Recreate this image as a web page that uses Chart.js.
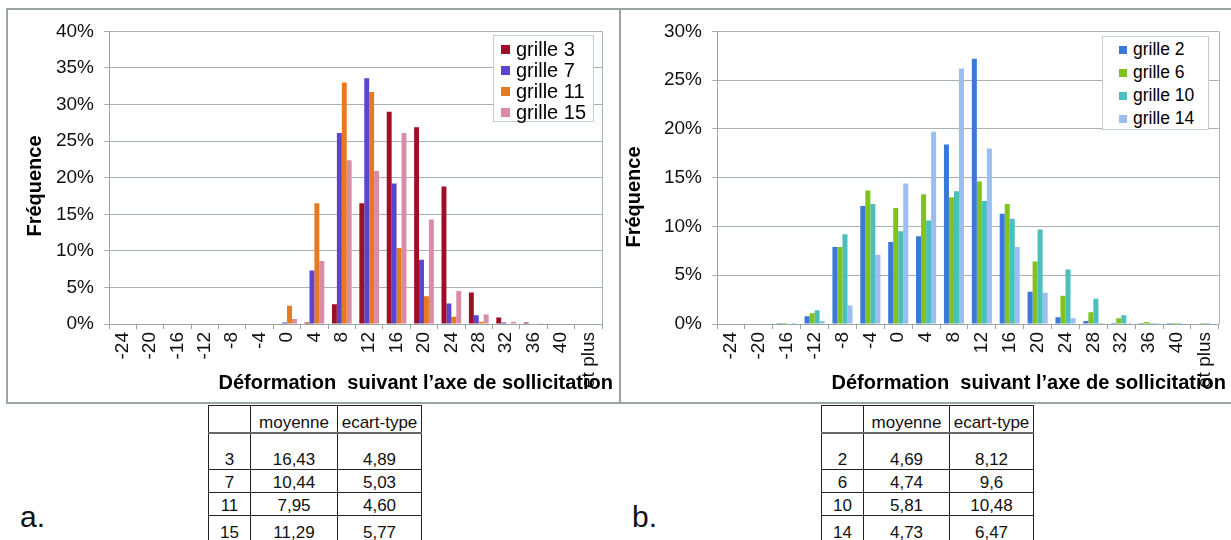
<!DOCTYPE html>
<html>
<head>
<meta charset="utf-8">
<script src="https://cdn.jsdelivr.net/npm/chart.js@4"></script>
<style>
    html, body { margin: 0; padding: 0; background: #fff; overflow: hidden; }
    body { width: 1231px; height: 540px; position: relative; font-family: "Liberation Sans", Arial, sans-serif; }
    .frame { position: absolute; border: 2px solid #9ba5a5; box-sizing: border-box; }
    canvas { position: absolute; }
    .legend { position: absolute; background: #fff; border: 1px solid #c5cccc; box-sizing: border-box; color: #000; }
    .legend div { display: flex; align-items: center; white-space: nowrap; }
    .legend span.box { display: inline-block; }
    table.stats { position: absolute; border-collapse: collapse; table-layout: fixed; font-size: 17px; color: #111; }
    table.stats td { border: 1px solid #222; text-align: center; vertical-align: bottom; padding: 0; line-height: 19px; }
    table.stats tr.head td { border-bottom: 2px solid #666; }
    .tag { position: absolute; font-size: 30px; line-height: 30px; color: #111; }
</style>
</head>
<body>
<div class="frame" style="left:6px;top:8px;width:615px;height:396px"></div>
<div class="frame" style="left:619px;top:8px;width:640px;height:396px"></div>

<canvas id="chartA" width="612" height="392" style="left:8px;top:10px"></canvas>
<canvas id="chartB" width="610" height="392" style="left:621px;top:10px"></canvas>

<div id="legendA" class="legend" style="left:493px;top:35px;width:101px;height:87px;font-size:20px;padding:3px 0 0 7px"></div>
<div id="legendB" class="legend" style="left:1102px;top:36px;width:107px;height:94px;font-size:17.5px;padding:1px 0 0 16px"></div>

<table id="tableA" class="stats" style="left:208px;top:405px;width:212px"></table>
<table id="tableB" class="stats" style="left:821px;top:405px;width:211px"></table>

<div class="tag" style="left:20px;top:502px">a.</div>
<div class="tag" style="left:632px;top:502px">b.</div>

<script>
// classes de deformation (axe x)
const categories = ['-24', '-20', '-16', '-12', '-8', '-4', '0', '4', '8', '12', '16', '20', '24', '28', '32', '36', '40', 'et plus'];

// a. frequences en %
const grille3 = [0, 0, 0, 0, 0, 0, 0, 0.2, 2.7, 16.5, 29.0, 26.9, 18.8, 4.3, 0.9, 0.2, 0, 0];
const grille7 = [0, 0, 0, 0, 0, 0, 0.2, 7.3, 26.1, 33.6, 19.2, 8.8, 2.8, 1.2, 0.2, 0, 0, 0];
const grille11 = [0, 0, 0, 0, 0, 0, 2.5, 16.5, 33.0, 31.7, 10.4, 3.8, 1.0, 0.3, 0, 0, 0, 0];
const grille15 = [0, 0, 0, 0, 0, 0, 0.7, 8.6, 22.4, 20.9, 26.1, 14.3, 4.5, 1.3, 0.3, 0.1, 0, 0];

// b. frequences en %
const grille2 = [0, 0, 0.1, 0.8, 7.9, 12.1, 8.4, 9.0, 18.4, 27.2, 11.3, 3.3, 0.7, 0.3, 0.1, 0.1, 0.1, 0];
const grille6 = [0, 0, 0.1, 1.1, 7.9, 13.7, 11.9, 13.3, 13.0, 14.6, 12.3, 6.4, 2.9, 1.2, 0.6, 0.2, 0.1, 0.1];
const grille10 = [0, 0, 0, 1.4, 9.2, 12.3, 9.5, 10.6, 13.6, 12.6, 10.8, 9.7, 5.6, 2.6, 0.9, 0.1, 0.1, 0.1];
const grille14 = [0, 0, 0.1, 0.3, 1.9, 7.1, 14.4, 19.7, 26.2, 18.0, 7.9, 3.2, 0.6, 0.1, 0.1, 0.1, 0, 0];

// tableaux moyenne / ecart-type
const statsHeader = ['', 'moyenne', 'ecart-type'];
const statsA = [['3', '16,43', '4,89'], ['7', '10,44', '5,03'], ['11', '7,95', '4,60'], ['15', '11,29', '5,77']];
const statsB = [['2', '4,69', '8,12'], ['6', '4,74', '9,6'], ['10', '5,81', '10,48'], ['14', '4,73', '6,47']];

const FONT = '"Liberation Sans", Arial, sans-serif';
const axisColor = '#9aa6a6';
const gridColor = '#a9b1b1';

// titres d'axes + bord droit de la zone de trace
const framePlugin = {
    id: 'frameTitles',
    afterDraw(chart, args, opts) {
        const ctx = chart.ctx;
        const area = chart.chartArea;
        ctx.save();
        ctx.strokeStyle = gridColor;
        ctx.lineWidth = 1;
        ctx.beginPath();
        ctx.moveTo(Math.round(area.right) + 0.5, area.top);
        ctx.lineTo(Math.round(area.right) + 0.5, area.bottom);
        ctx.stroke();

        ctx.fillStyle = '#000';
        ctx.font = 'bold 20px ' + FONT;
        ctx.textBaseline = 'middle';
        ctx.textAlign = 'right';
        ctx.fillText(opts.xText, opts.xRight, opts.xY);

        ctx.translate(opts.yX, opts.yY);
        ctx.rotate(-Math.PI / 2);
        ctx.textAlign = 'center';
        ctx.fillText(opts.yText, 0, 0);
        ctx.restore();
    }
};

function makeChart(id, datasets, yMax, yWidth, padRight, titles) {
    const ctx = document.getElementById(id).getContext('2d');
    return new Chart(ctx, {
        type: 'bar',
        data: {
            labels: categories,
            datasets: datasets.map(d => ({
                label: d.label,
                data: d.data,
                backgroundColor: d.color,
                borderWidth: 0,
                categoryPercentage: 0.72,
                barPercentage: 1.0
            }))
        },
        options: {
            responsive: false,
            animation: false,
            layout: { padding: { top: 14, right: padRight, left: 0, bottom: 0 } },
            plugins: {
                legend: { display: false },
                tooltip: { enabled: false },
                frameTitles: titles
            },
            scales: {
                x: {
                    grid: { drawOnChartArea: false, drawTicks: true, tickLength: 5, color: axisColor },
                    border: { color: axisColor },
                    ticks: {
                        autoSkip: false, minRotation: 90, maxRotation: 90, padding: 3,
                        color: '#111', font: { family: FONT, size: 19 }
                    },
                    afterFit: s => { s.height = 78; }
                },
                y: {
                    min: 0,
                    max: yMax,
                    grid: { color: gridColor, tickLength: 5 },
                    border: { color: axisColor },
                    ticks: {
                        stepSize: 5, padding: 10, color: '#111',
                        font: { family: FONT, size: 19 },
                        callback: v => v + '%'
                    },
                    afterFit: s => { s.width = yWidth; }
                }
            }
        },
        plugins: [framePlugin]
    });
}

function buildLegend(elId, datasets, rowHeight, boxW, boxH, gap) {
    const el = document.getElementById(elId);
    datasets.forEach(d => {
        const row = document.createElement('div');
        row.style.height = rowHeight + 'px';
        const box = document.createElement('span');
        box.className = 'box';
        box.style.width = boxW + 'px';
        box.style.height = boxH + 'px';
        box.style.background = d.color;
        box.style.marginRight = gap + 'px';
        row.appendChild(box);
        row.appendChild(document.createTextNode(d.label));
        el.appendChild(row);
    });
}

function buildTable(elId, rows, widths) {
    const table = document.getElementById(elId);
    const heights = [27, 37, 23, 23, 27];
    [statsHeader].concat(rows).forEach((r, i) => {
        const tr = document.createElement('tr');
        if (i === 0) tr.className = 'head';
        tr.style.height = heights[i] + 'px';
        r.forEach((txt, j) => {
            const td = document.createElement('td');
            td.textContent = txt;
            if (i === 0) td.style.width = widths[j] + 'px';
            tr.appendChild(td);
        });
        table.appendChild(tr);
    });
}

const setA = [
    { label: 'grille 3', data: grille3, color: '#9e0f29' },
    { label: 'grille 7', data: grille7, color: '#5a45cf' },
    { label: 'grille 11', data: grille11, color: '#e8791f' },
    { label: 'grille 15', data: grille15, color: '#d98ca6' }
];
const setB = [
    { label: 'grille 2', data: grille2, color: '#3b78d9' },
    { label: 'grille 6', data: grille6, color: '#80c31c' },
    { label: 'grille 10', data: grille10, color: '#4bbfbd' },
    { label: 'grille 14', data: grille14, color: '#9bbdf0' }
];

const xTitle = 'Déformation  suivant l’axe de sollicitation';

makeChart('chartA', setA, 40, 101, 18,
    { xText: xTitle, xRight: 605, xY: 373, yText: 'Fréquence', yX: 27, yY: 176 });
makeChart('chartB', setB, 30, 96, 11,
    { xText: xTitle, xRight: 605, xY: 373, yText: 'Fréquence', yX: 13, yY: 187 });

buildLegend('legendA', setA, 21, 9, 9, 6);
buildLegend('legendB', setB, 23, 8, 8, 6);

buildTable('tableA', statsA, [41, 86, 83]);
buildTable('tableB', statsB, [41, 85, 83]);
</script>
</body>
</html>
